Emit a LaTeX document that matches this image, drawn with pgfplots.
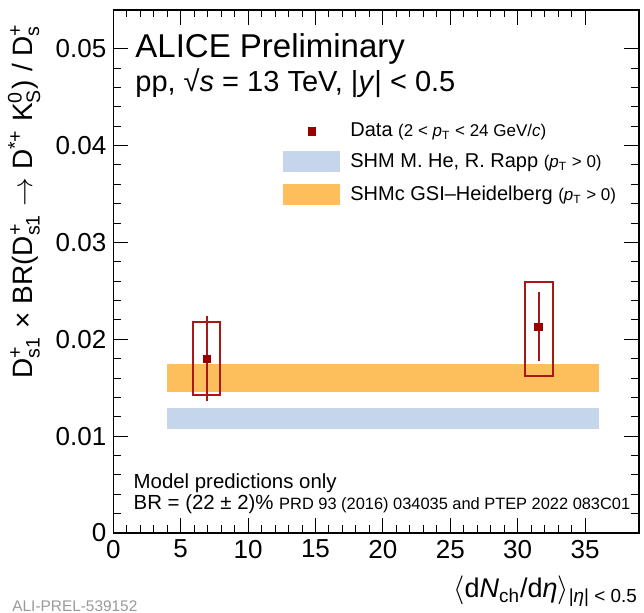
\documentclass[border=0pt]{standalone}
\usepackage{amsmath}
\usepackage{fontspec}
\setmainfont{Liberation Sans}
\usepackage{pgfplots}
\pgfplotsset{compat=1.18}
\definecolor{dred}{HTML}{990000}
\definecolor{lred}{HTML}{A81818}
\definecolor{bandblue}{HTML}{C5D6EC}
\definecolor{bandorange}{HTML}{FDBE5C}
\pgfplotsset{
  boxlegend/.style={legend image code/.code={\fill[##1] (0pt,-5.25pt) rectangle (28.5pt,5.25pt);}},
  marklegend/.style={legend image code/.code={\draw[##1] plot coordinates {(14.25pt,0pt)};}},
}
\newcommand{\supsub}[2]{\ensuremath{^{\text{#1}}_{\text{#2}}}}
\newcommand{\sub}[1]{\ensuremath{_{\text{#1}}}}
\newcommand{\sups}[1]{\ensuremath{^{\text{#1}}}}
\begin{document}
\begin{tikzpicture}
\useasboundingbox (-56.65pt,-40pt) rectangle (265.35pt,266.5pt);
\begin{axis}[
  at={(0pt,0pt)}, anchor=south west,
  scale only axis, width=262.85pt, height=261.5pt,
  xmin=0, xmax=39, ymin=0, ymax=0.054,
  xtick={0,5,10,15,20,25,30,35},
  minor x tick num=4,
  ytick={0,0.01,0.02,0.03,0.04,0.05},
  yticklabels={0,0.01,0.02,0.03,0.04,0.05},
  minor y tick num=4,
  scaled y ticks=false,
  major tick length=7.5pt, minor tick length=3.75pt,
  tick style={black, line width=0.5pt},
  axis line style={line width=0.6pt},
  tick label style={font=\fontsize{13}{13}\selectfont},
  /pgf/number format/assume math mode=true,
  legend style={at={(0.3228,0.7850)}, anchor=north west, draw=none, fill=none,
    inner sep=0pt, row sep=5.9pt, column sep=5pt,
    font=\fontsize{10}{11}\selectfont, nodes={inner sep=0pt}},
  legend cell align=left,
]
% model bands
\addplot[fill=bandblue, draw=none, forget plot] coordinates {(4,0.01078) (36,0.01078) (36,0.01288) (4,0.01288)} -- cycle;
\addplot[fill=bandorange, draw=none, forget plot] coordinates {(4,0.01453) (36,0.01453) (36,0.01743) (4,0.01743)} -- cycle;
% systematic boxes
\addplot[lred, line width=1pt, forget plot] coordinates {(5.90,0.01426) (7.95,0.01426) (7.95,0.02177) (5.90,0.02177)} -- cycle;
\addplot[lred, line width=1pt, forget plot] coordinates {(30.54,0.01622) (32.59,0.01622) (32.59,0.02590) (30.54,0.02590)} -- cycle;
% data with stat errors
\addplot[only marks, mark=square*, mark size=1.85pt, color=dred, forget plot,
  error bars/.cd, y dir=both, y explicit, error mark=none,
  error bar style={line width=1pt, lred}]
  coordinates {(6.93,0.0180) +- (0,0.0044) (31.55,0.0213) +- (0,0.00355)};
% legend
\addlegendimage{marklegend, only marks, mark=square*, mark size=1.85pt, color=dred}
\addlegendentry{Data {\fontsize{8.5}{9}\selectfont (2 < \textit{p}\sub{T} < 24 GeV/\textit{c})}}
\addlegendimage{boxlegend, fill=bandblue, draw=none}
\addlegendentry{SHM M. He, R. Rapp {\fontsize{8.5}{9}\selectfont (\textit{p}\sub{T} > 0)}}
\addlegendimage{boxlegend, fill=bandorange, draw=none}
\addlegendentry{SHMc GSI–Heidelberg {\fontsize{8.5}{9}\selectfont (\textit{p}\sub{T} > 0)}}
\end{axis}
% texts
\node[anchor=base west, inner sep=0pt, font=\fontsize{16.5}{16.5}\selectfont] at (10.85pt,237.5pt) {ALICE Preliminary};
\node[anchor=base west, inner sep=0pt, font=\fontsize{14.5}{14.5}\selectfont] at (10.85pt,220.5pt) {pp, √\textit{s} = 13 TeV, |\textit{y}| < 0.5};
\node[anchor=base west, inner sep=0pt, font=\fontsize{10.2}{11}\selectfont] at (10pt,22pt) {Model predictions only};
\node[anchor=base west, inner sep=0pt, font=\fontsize{10.2}{11}\selectfont] at (10pt,11.5pt) {BR = (22 ± 2)\% {\fontsize{8.2}{9}\selectfont PRD 93 (2016) 034035 and PTEP 2022 083C01}};
% axis titles
\node[rotate=90, anchor=base, inner sep=0pt, font=\fontsize{14}{14}\selectfont] at (-40.6pt,166pt)
  {D\supsub{+}{s1} × BR(D\supsub{+}{s1} $\rightarrow$ D\sups{*+} K\supsub{0}{S}) / D\supsub{+}{s}};
\node[anchor=base east, inner sep=0pt, font=\fontsize{13.5}{14}\selectfont] at (262.5pt,-32.5pt)
  {$\langle$d\textit{N}\sub{ch}/d\textit{η}$\rangle$\ensuremath{_{\text{|\textit{η}| < 0.5}}}};
% watermark
\node[anchor=base west, inner sep=0pt, text=black!40, font=\fontsize{7.7}{8}\selectfont] at (-50.65pt,-39.3pt) {ALI-PREL-539152};
\end{tikzpicture}
\end{document}
